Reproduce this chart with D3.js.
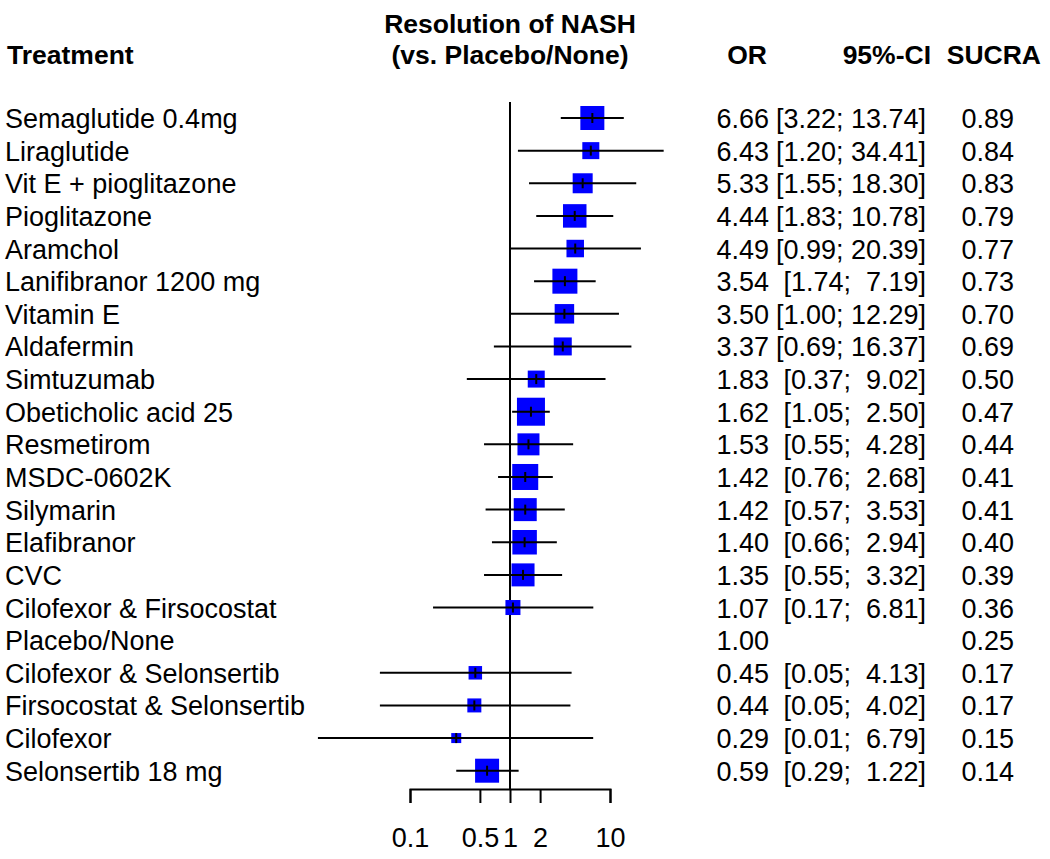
<!DOCTYPE html>
<html>
<head>
<meta charset="utf-8">
<script src="https://cdn.jsdelivr.net/npm/d3@7"></script>
<style>
  body { margin: 0; background: #fff; }
  text { font-family: "Liberation Sans", Arial, sans-serif; fill: #000; }
</style>
</head>
<body>
<div id="chart"></div>
<script>
var treatments = ["Semaglutide 0.4mg", "Liraglutide", "Vit E + pioglitazone", "Pioglitazone",
  "Aramchol", "Lanifibranor 1200 mg", "Vitamin E", "Aldafermin", "Simtuzumab",
  "Obeticholic acid 25", "Resmetirom", "MSDC-0602K", "Silymarin", "Elafibranor", "CVC",
  "Cilofexor & Firsocostat", "Placebo/None", "Cilofexor & Selonsertib",
  "Firsocostat & Selonsertib", "Cilofexor", "Selonsertib 18 mg"];
var or = [6.66, 6.43, 5.33, 4.44, 4.49, 3.54, 3.50, 3.37, 1.83, 1.62, 1.53, 1.42, 1.42, 1.40, 1.35,
  1.07, 1.00, 0.45, 0.44, 0.29, 0.59];
var lower = [3.22, 1.20, 1.55, 1.83, 0.99, 1.74, 1.00, 0.69, 0.37, 1.05, 0.55, 0.76, 0.57, 0.66, 0.55,
  0.17, null, 0.05, 0.05, 0.012, 0.29];
var upper = [13.74, 34.41, 18.30, 10.78, 20.39, 7.19, 12.29, 16.37, 9.02, 2.50, 4.28, 2.68, 3.53, 2.94, 3.32,
  6.81, null, 4.13, 4.02, 6.79, 1.22];
var sucra = [0.89, 0.84, 0.83, 0.79, 0.77, 0.73, 0.70, 0.69, 0.50, 0.47, 0.44, 0.41, 0.41, 0.40, 0.39,
  0.36, 0.25, 0.17, 0.17, 0.15, 0.14];
// relative weight of each comparison
var weight = [24, 17, 20, 23.5, 17.5, 25, 19.5, 18, 17, 28, 22, 26, 23, 24.5, 23,
  15, 0, 13.5, 14, 10, 24];
var axisTicks = [0.1, 0.5, 1, 2, 10];

var W = 1050, H = 859;
var svg = d3.select("#chart").append("svg").attr("width", W).attr("height", H);

var rows = treatments.map(function (t, i) {
  return { name: t, or: or[i], lo: lower[i], hi: upper[i], sucra: sucra[i], w: weight[i] };
});

var x = d3.scaleLog().domain([0.1, 10]).range([410, 610]);
var y = d3.scalePoint().domain(treatments).range([118, 770.7]);
var size = d3.scaleLinear().domain([0, 28]).range([0, 28]);

// headers
var head = svg.append("g").style("font-weight", "bold").style("font-size", "26.5px");
head.append("text").attr("x", 7).attr("y", 64).text("Treatment");
head.append("text").attr("x", 510).attr("y", 33).attr("text-anchor", "middle").text("Resolution of NASH");
head.append("text").attr("x", 510).attr("y", 64).attr("text-anchor", "middle").text("(vs. Placebo/None)");
head.append("text").attr("x", 767).attr("y", 64).attr("text-anchor", "end").text("OR");
head.append("text").attr("x", 931).attr("y", 64).attr("text-anchor", "end").text("95%-CI");
head.append("text").attr("x", 1041).attr("y", 64).attr("text-anchor", "end").text("SUCRA");

// reference line
svg.append("line")
  .attr("x1", x(1)).attr("x2", x(1))
  .attr("y1", 102).attr("y2", 789)
  .attr("stroke", "#000").attr("stroke-width", 2);

var g = svg.append("g").selectAll("g").data(rows).join("g")
  .attr("transform", function (d) { return "translate(0," + y(d.name) + ")"; });

g.append("text").attr("x", 5).attr("y", 10).style("font-size", "27px")
  .text(function (d) { return d.name; });

var est = g.filter(function (d) { return d.lo != null; });
est.append("rect")
  .attr("x", function (d) { return x(d.or) - size(d.w) / 2; })
  .attr("y", function (d) { return -size(d.w) / 2; })
  .attr("width", function (d) { return size(d.w); })
  .attr("height", function (d) { return size(d.w); })
  .attr("fill", "#0000ff");
est.append("line")
  .attr("x1", function (d) { return x(d.lo); })
  .attr("x2", function (d) { return x(d.hi); })
  .attr("stroke", "#000").attr("stroke-width", 2);
est.append("line")
  .attr("x1", function (d) { return x(d.or); })
  .attr("x2", function (d) { return x(d.or); })
  .attr("y1", -5).attr("y2", 5)
  .attr("stroke", "#000").attr("stroke-width", 2);

g.append("text").attr("x", 769).attr("y", 10).attr("text-anchor", "end").style("font-size", "27px")
  .text(function (d) { return d.or.toFixed(2); });
est.append("text").attr("x", 926).attr("y", 10).attr("text-anchor", "end")
  .style("font-size", "27px").style("white-space", "pre")
  .text(function (d) { return "[" + d.lo.toFixed(2) + "; " + d.hi.toFixed(2).padStart(5, " ") + "]"; });
g.append("text").attr("x", 1014).attr("y", 10).attr("text-anchor", "end").style("font-size", "27px")
  .text(function (d) { return d.sucra.toFixed(2); });

// x axis
var ax = svg.append("g").attr("transform", "translate(0,789)")
  .call(d3.axisBottom(x).tickValues(axisTicks).tickFormat(d3.format("~g"))
    .tickSize(14).tickPadding(25));
ax.selectAll("path, line").attr("stroke", "#000").attr("stroke-width", 2);
ax.selectAll("text").style("font-size", "27px").style("font-family", "'Liberation Sans', Arial, sans-serif");
</script>
</body>
</html>
